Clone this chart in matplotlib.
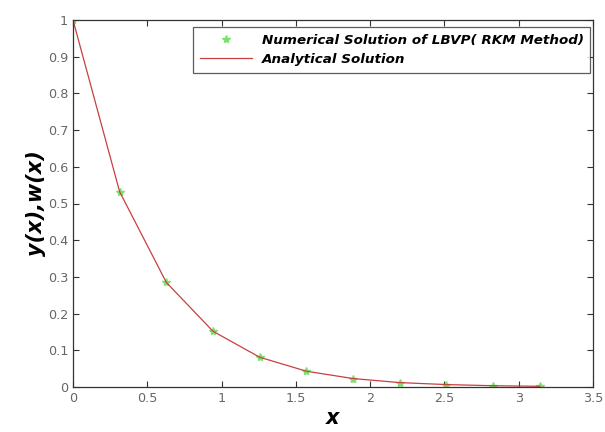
import matplotlib
matplotlib.use("Agg")
import matplotlib.pyplot as plt

x_vals = [0.0, 0.314, 0.628, 0.942, 1.257, 1.571, 1.885, 2.199, 2.513, 2.827, 3.142]
numerical = [1.0, 0.532, 0.285, 0.152, 0.081, 0.043, 0.023, 0.012, 0.0066, 0.0035, 0.0019]
analytical = [1.0, 0.532, 0.285, 0.152, 0.081, 0.043, 0.023, 0.012, 0.0066, 0.0035, 0.0019]
x_ticks = [0, 0.5, 1, 1.5, 2, 2.5, 3, 3.5]
y_ticks = [0, 0.1, 0.2, 0.3, 0.4, 0.5, 0.6, 0.7, 0.8, 0.9, 1]

fig = plt.figure(figsize=(6.05, 4.32), dpi=100)
ax = fig.add_axes([73/605, 1 - 387/432, (593 - 73)/605, (387 - 20)/432])

ax.plot(x_vals, numerical, linestyle='none', marker='*', color='#7ee070',
        markersize=6, label='Numerical Solution of LBVP( RKM Method)')
ax.plot(x_vals, analytical, color='#c84040', linewidth=0.9, label='Analytical Solution')

ax.set_xlim(0, 3.5)
ax.set_ylim(0, 1)
ax.set_xticks(x_ticks)
ax.set_xticklabels(['0', '0.5', '1', '1.5', '2', '2.5', '3', '3.5'])
ax.set_yticks(y_ticks)
ax.set_yticklabels(['0', '0.1', '0.2', '0.3', '0.4', '0.5', '0.6', '0.7', '0.8', '0.9', '1'])
ax.tick_params(direction='in', top=True, right=True, labelsize=9.2, labelcolor='#666666',
               length=4, width=0.8, color='#333333')
for s in ax.spines.values():
    s.set_color('#333333')
    s.set_linewidth(0.9)

ax.set_xlabel('x', fontsize=15, fontweight='bold', style='italic', labelpad=2)
ax.set_ylabel('y(x),w(x)', fontsize=15, fontweight='bold', style='italic', labelpad=1)

leg = ax.legend(loc='upper right', bbox_to_anchor=(0.995, 0.981), borderaxespad=0,
                frameon=True, fancybox=False,
                prop={'weight': 'bold', 'style': 'italic', 'size': 9.7}, handlelength=3.9,
                borderpad=0.5, labelspacing=0.45, handletextpad=0.7)
leg.get_frame().set_edgecolor('#333333')
leg.get_frame().set_linewidth(0.9)

fig.savefig('out.png', dpi=100)
